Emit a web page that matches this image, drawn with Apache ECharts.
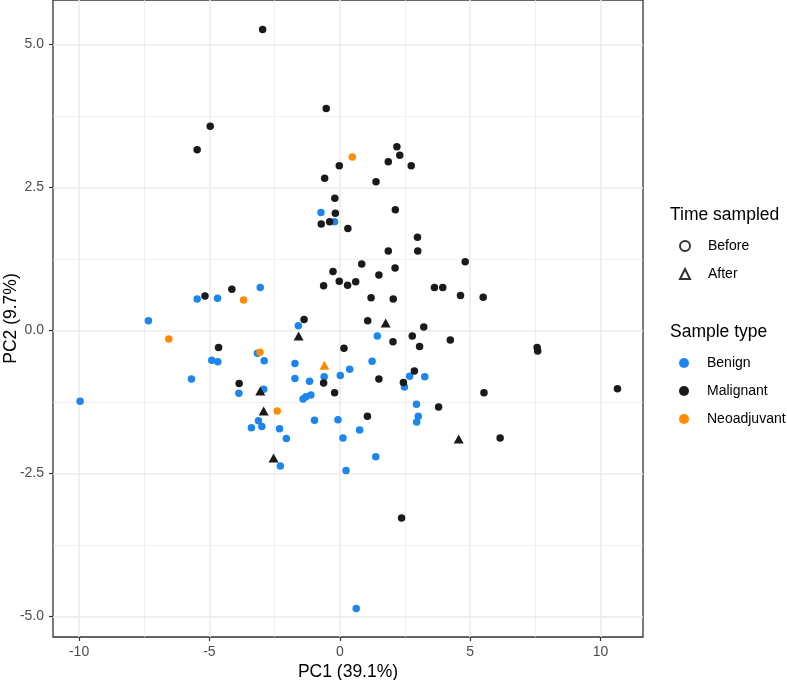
<!DOCTYPE html>
<html>
<head>
<meta charset="utf-8">
<script src="https://cdn.jsdelivr.net/npm/echarts@6/dist/echarts.min.js"></script>
<style>
  html, body { margin: 0; padding: 0; background: #fff; }
  #chart { width: 787px; height: 680px; }
</style>
</head>
<body>
<div id="chart"></div>
<script>
// tick positions (major + minor grid)
const xTicks = [-10, -5, 0, 5, 10]
const xMinor = [-7.5, -2.5, 2.5, 7.5]
const yTicks = [-5, -2.5, 0, 2.5, 5]
const yMinor = [-3.75, -1.25, 1.25, 3.75]

// [PC1, PC2]
const benignBefore = [
  [-0.72, 2.06], [-0.20, 1.90], [-3.05, 0.75], [-5.47, 0.55], [-4.69, 0.56],
  [-1.59, 0.08], [1.44, -0.10], [1.24, -0.54], [0.38, -0.68], [0.02, -0.79],
  [-0.60, -0.81], [-1.16, -0.89], [2.68, -0.80], [2.48, -0.99], [3.26, -0.81],
  [-1.41, -1.20], [-1.30, -1.16], [-1.11, -1.13], [2.94, -1.29], [3.01, -1.50],
  [2.95, -1.60], [-0.97, -1.57], [-0.07, -1.56], [0.76, -1.74], [0.12, -1.88],
  [1.38, -2.21], [0.24, -2.45], [-7.34, 0.17], [-3.16, -0.40], [-2.90, -0.53],
  [-4.91, -0.52], [-4.68, -0.55], [-1.72, -0.58], [-5.69, -0.85], [-1.72, -0.84],
  [-3.87, -1.10], [-2.92, -1.03], [-9.96, -1.24], [-3.12, -1.58], [-3.39, -1.70],
  [-2.99, -1.68], [-2.31, -1.72], [-2.05, -1.89], [-2.28, -2.37], [0.63, -4.86]
]
const malignantBefore = [
  [-2.96, 5.26], [-0.52, 3.88], [-4.97, 3.57], [-5.47, 3.16], [-0.02, 2.88],
  [-0.58, 2.66], [-0.19, 2.31], [-0.17, 2.05], [-0.71, 1.86], [-0.39, 1.90],
  [0.31, 1.78], [-0.26, 1.03], [-0.02, 0.86], [-0.62, 0.78], [0.30, 0.79],
  [-4.14, 0.72], [-5.17, 0.60], [2.19, 3.21], [2.30, 3.06], [1.86, 2.95],
  [2.74, 2.88], [1.39, 2.60], [2.13, 2.11], [2.98, 1.63], [1.86, 1.39],
  [2.99, 1.39], [4.81, 1.20], [0.84, 1.16], [2.12, 1.09], [1.50, 0.97],
  [0.61, 0.85], [3.63, 0.75], [3.95, 0.75], [4.63, 0.61], [1.20, 0.57],
  [2.05, 0.55], [5.50, 0.58], [-1.37, 0.19], [1.07, 0.17], [3.22, 0.06],
  [2.04, -0.20], [2.78, -0.10], [3.06, -0.28], [4.24, -0.17], [7.57, -0.30],
  [7.59, -0.36], [0.16, -0.31], [-0.62, -0.92], [-0.20, -1.09], [1.50, -0.85],
  [2.86, -0.71], [2.44, -0.91], [5.53, -1.09], [10.65, -1.02], [3.79, -1.34],
  [1.06, -1.50], [6.15, -1.88], [-4.65, -0.30], [-3.86, -0.93], [2.37, -3.28]
]
const neoBefore = [[-3.69, 0.53], [0.48, 3.03], [-6.56, -0.15], [-3.06, -0.38], [-2.40, -1.41]]
const malignantAfter = [[-1.58, -0.10], [1.76, 0.13], [-3.05, -1.06], [-2.92, -1.41], [-2.54, -2.23], [4.56, -1.90]]
const neoAfter = [[-0.59, -0.61]]

const colors = { Benign: '#1c86ee', Malignant: '#1a1a1a', Neoadjuvant: '#ff8c00' }
const font = '"Liberation Sans", Arial, sans-serif'
const gridLine = (v, key, w) => ({ [key]: v, lineStyle: { width: w } })

const pts = (name, data, shape) => ({
  name,
  type: 'scatter',
  data,
  symbol: shape,
  symbolSize: shape === 'triangle' ? [10, 9] : 7.5,
  itemStyle: { color: colors[name], opacity: 1 },
  z: 10,
})

const legendBase = {
  orient: 'vertical', left: 679, padding: 0,
  itemWidth: 10, itemHeight: 10, itemGap: 14, selectedMode: false,
  textStyle: { fontSize: 14, color: '#000', fontFamily: font, padding: [0, 0, 0, 13] },
}

const chart = echarts.init(document.getElementById('chart'))

chart.setOption({
  animation: false,
  backgroundColor: '#fff',
  textStyle: { fontFamily: font },
  grid: {
    left: 53, top: 0, right: 144, bottom: 43,
    outerBoundsMode: 'none', containLabel: false,
    show: true, backgroundColor: '#fff', borderColor: '#333', borderWidth: 1.3,
  },
  xAxis: {
    type: 'value', min: -11.0, max: 11.63,
    name: 'PC1 (39.1%)', nameLocation: 'middle', nameGap: 26, nameMoveOverlap: false,
    nameTextStyle: { fontSize: 17.5, color: '#000', fontFamily: font },
    axisLine: { show: false, onZero: false },
    axisTick: { show: true, customValues: xTicks, length: 4, lineStyle: { color: '#333', width: 1.2 } },
    axisLabel: { customValues: xTicks, margin: 8, fontSize: 14, color: '#4d4d4d', fontFamily: font },
    splitLine: { show: false },
  },
  yAxis: {
    type: 'value', min: -5.36, max: 5.776,
    name: 'PC2 (9.7%)', nameLocation: 'middle', nameGap: 33, nameRotate: 90, nameMoveOverlap: false,
    nameTextStyle: { fontSize: 17.5, color: '#000', fontFamily: font },
    axisLine: { show: false, onZero: false },
    axisTick: { show: true, customValues: yTicks, length: 4, lineStyle: { color: '#333', width: 1.2 } },
    axisLabel: { customValues: yTicks, margin: 9, fontSize: 14, color: '#4d4d4d', fontFamily: font,
      formatter: v => v.toFixed(1) },
    splitLine: { show: false },
  },
  legend: [
    { ...legendBase, data: ['Before', 'After'], top: 239 },
    { ...legendBase, data: ['Benign', 'Malignant', 'Neoadjuvant'], top: 356 },
  ],
  graphic: [
    { type: 'text', left: 670, top: 206, style: { text: 'Time sampled', font: '17.5px ' + font, fill: '#000' } },
    { type: 'text', left: 670, top: 323, style: { text: 'Sample type', font: '17.5px ' + font, fill: '#000' } },
  ],
  series: [
    {
      name: 'grid', type: 'scatter', data: [], z: 1, silent: true,
      markLine: {
        z: 1, silent: true, symbol: ['none', 'none'], label: { show: false },
        lineStyle: { color: '#ebebeb', type: 'solid', width: 1.5 },
        data: [
          ...xMinor.map(v => gridLine(v, 'xAxis', 0.8)),
          ...yMinor.map(v => gridLine(v, 'yAxis', 0.8)),
          ...xTicks.map(v => gridLine(v, 'xAxis', 1.5)),
          ...yTicks.map(v => gridLine(v, 'yAxis', 1.5)),
        ],
      },
    },
    {
      name: 'Before', type: 'scatter', data: [], symbol: 'circle',
      itemStyle: { color: '#fff', borderColor: '#000', borderWidth: 1.3 },
    },
    {
      name: 'After', type: 'scatter', data: [], symbol: 'triangle',
      itemStyle: { color: '#fff', borderColor: '#000', borderWidth: 1.3 },
    },
    pts('Benign', benignBefore, 'circle'),
    pts('Malignant', malignantBefore, 'circle'),
    pts('Neoadjuvant', neoBefore, 'circle'),
    pts('Malignant', malignantAfter, 'triangle'),
    pts('Neoadjuvant', neoAfter, 'triangle'),
  ],
})
</script>
</body>
</html>
